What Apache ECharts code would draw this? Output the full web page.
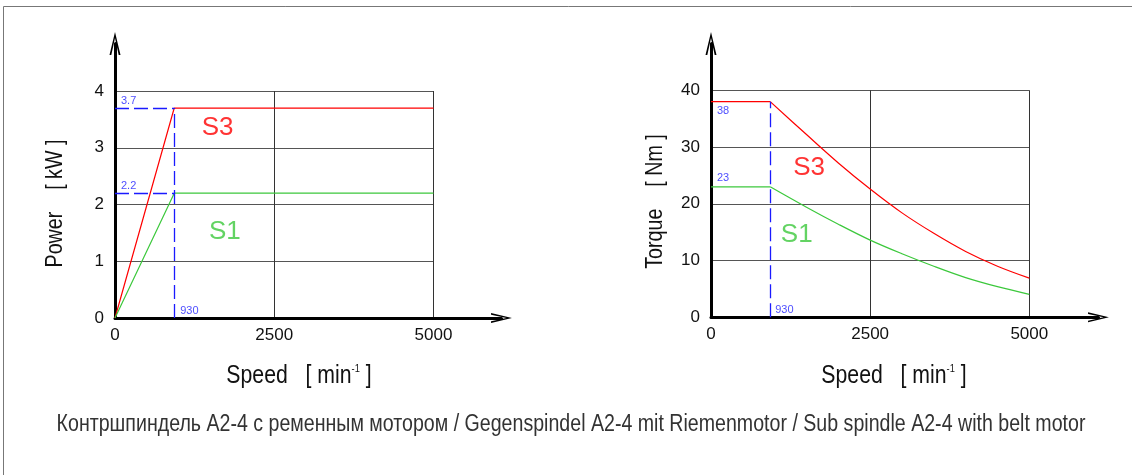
<!DOCTYPE html>
<html>
<head>
<meta charset="utf-8">
<script src="https://cdn.jsdelivr.net/npm/echarts@6/dist/echarts.min.js"></script>
<style>
  html, body { margin: 0; padding: 0; background: #fff; }
  #chart { width: 1132px; height: 475px; }
</style>
</head>
<body>
<div id="chart"></div>
<script>
  // power curve (left)
  var powerSpeed = [0, 930, 5000];
  var powerS3 = [0, 3.7, 3.7];
  var powerS1 = [0, 2.2, 2.2];
  // torque curve (right)
  var torqueSpeed = [0, 930, 1500, 2000, 2500, 3000, 3500, 4000, 4500, 5000];
  var torqueS3 = [38, 38, 32.2, 27.2, 22.6, 18.4, 14.8, 11.6, 9.0, 6.9];
  var torqueS1 = [23, 23, 19.4, 16.4, 13.6, 11.2, 9.0, 7.0, 5.4, 4.05];
  var speedTicks = [0, 2500, 5000];
  var powerTicks = [0, 1, 2, 3, 4];
  var torqueTicks = [0, 10, 20, 30, 40];
  var baseSpeed = 930;
  var caption = 'Контршпиндель A2-4 с ременным мотором / Gegenspindel A2-4 mit Riemenmotor / Sub spindle A2-4 with belt motor';

  var FONT = '"Liberation Sans", Arial, sans-serif';
  var RED = '#ff0000', GREEN = '#3cc83c', BLUE = '#1a1aff';
  var chevron = 'path://M0,23 L5.5,0 L11,23 L9.2,23 L5.5,6 L1.8,23 Z';

  function zip(xs, ys) {
    var out = [];
    for (var i = 0; i < xs.length; i++) out.push([xs[i], ys[i]]);
    return out;
  }

  function plotX(idx, ticks) {
    return {
      gridIndex: idx, type: 'value',
      min: ticks[0], max: ticks[ticks.length - 1], interval: ticks[1] - ticks[0],
      axisLine: { show: false }, axisTick: { show: false },
      axisLabel: { color: '#111', fontSize: 17, fontFamily: FONT, margin: 9,
        formatter: function (v) { return String(v); } },
      splitLine: { show: true, lineStyle: { color: '#333', width: 1 } }
    };
  }
  function plotY(idx, ticks) {
    return {
      gridIndex: idx, type: 'value',
      min: ticks[0], max: ticks[ticks.length - 1], interval: ticks[1] - ticks[0],
      axisLine: { show: false }, axisTick: { show: false },
      axisLabel: { color: '#111', fontSize: 17, fontFamily: FONT, margin: 11 },
      splitLine: { show: true, lineStyle: { color: '#555', width: 1.2 } }
    };
  }
  // the thick arrow axes
  function arrowAxis(idx, size) {
    return {
      gridIndex: idx, type: 'value', min: 0, max: 1,
      axisLine: { show: true, symbol: ['none', chevron], symbolSize: size,
        lineStyle: { color: '#000', width: 3 } },
      axisTick: { show: false }, axisLabel: { show: false }, splitLine: { show: false }
    };
  }

  function tag(x, y, text, pos, va) {
    return { value: [x, y], label: { formatter: text, position: pos, verticalAlign: va } };
  }
  function curveLabel(x, y, text, color) {
    return { value: [x, y], label: { formatter: text, color: color } };
  }
  function curve(name, xi, data, color, smooth) {
    return {
      name: name, type: 'line', xAxisIndex: xi, yAxisIndex: xi,
      data: data, showSymbol: false, smooth: smooth,
      lineStyle: { color: color, width: 1.2 }
    };
  }

  var dash = { color: BLUE, type: [14, 5], width: 1.3 };
  var torqueS3pts = zip(torqueSpeed, torqueS3);
  var torqueS1pts = zip(torqueSpeed, torqueS1);

  var s1Power = curve('S1', 0, zip(powerSpeed, powerS1), GREEN, false);
  s1Power.markLine = {
    silent: true, symbol: ['none', 'none'], label: { show: false }, lineStyle: dash,
    data: [
      [{ coord: [0, powerS3[1]] }, { coord: [baseSpeed, powerS3[1]] }],
      [{ coord: [0, powerS1[1]] }, { coord: [baseSpeed, powerS1[1]] }],
      [{ coord: [baseSpeed, 0] }, { coord: [baseSpeed, powerS3[1]] }]
    ]
  };
  var s1TorqueFlat = curve('S1', 2, torqueS1pts.slice(0, 2), GREEN, false);
  s1TorqueFlat.markLine = {
    silent: true, symbol: ['none', 'none'], label: { show: false }, lineStyle: dash,
    data: [[{ coord: [baseSpeed, 0] }, { coord: [baseSpeed, torqueS3[1]] }]]
  };

  var tagLabel = { show: true, color: BLUE, fontSize: 11, fontFamily: FONT, align: 'left' };
  var nameLabel = { show: true, position: [0, 0], align: 'center', verticalAlign: 'middle',
    fontSize: 26, fontFamily: FONT };
  var supRich = { sup: { fontSize: 11, fontFamily: FONT, verticalAlign: 'top', fill: '#111' } };

  var option = {
    animation: false,
    backgroundColor: '#fff',
    grid: [
      { left: 115, top: 91, width: 318.5, height: 227 },
      { left: 115, top: 43.5, width: 386.5, height: 274.5 },
      { left: 711, top: 90.3, width: 318.3, height: 227 },
      { left: 711, top: 43.5, width: 387.5, height: 273.8 }
    ],
    xAxis: [
      plotX(0, speedTicks), arrowAxis(1, [10, 23]),
      plotX(2, speedTicks), arrowAxis(3, [10, 23])
    ],
    yAxis: [
      plotY(0, powerTicks), arrowAxis(1, [11, 23]),
      plotY(2, torqueTicks), arrowAxis(3, [11, 23])
    ],
    series: [
      curve('S3', 0, zip(powerSpeed, powerS3), RED, false),
      s1Power,
      curve('S3', 2, torqueS3pts.slice(0, 2), RED, false),
      curve('S3', 2, torqueS3pts.slice(1), RED, 0.35),
      s1TorqueFlat,
      curve('S1', 2, torqueS1pts.slice(1), GREEN, 0.35),
      {
        // small blue value tags
        type: 'scatter', xAxisIndex: 0, yAxisIndex: 0, symbolSize: 0, silent: true,
        label: tagLabel,
        data: [
          tag(0, powerS3[1], String(powerS3[1]), [6, -2], 'bottom'),
          tag(0, powerS1[1], String(powerS1[1]), [6, -2], 'bottom'),
          tag(baseSpeed, 0, String(baseSpeed), [6, -2], 'bottom')
        ]
      },
      {
        type: 'scatter', xAxisIndex: 2, yAxisIndex: 2, symbolSize: 0, silent: true,
        label: tagLabel,
        data: [
          tag(0, torqueS3[1], String(torqueS3[1]), [6, 4], 'top'),
          tag(0, torqueS1[1], String(torqueS1[1]), [6, -3], 'bottom'),
          tag(baseSpeed, 0, String(baseSpeed), [5, -2], 'bottom')
        ]
      },
      {
        // S3 / S1 curve names
        type: 'scatter', xAxisIndex: 0, yAxisIndex: 0, symbolSize: 0, silent: true,
        label: nameLabel,
        data: [curveLabel(1610, 3.35, 'S3', RED), curveLabel(1724, 1.52, 'S1', GREEN)]
      },
      {
        type: 'scatter', xAxisIndex: 2, yAxisIndex: 2, symbolSize: 0, silent: true,
        label: nameLabel,
        data: [curveLabel(1540, 26.4, 'S3', RED), curveLabel(1346, 14.6, 'S1', GREEN)]
      }
    ],
    graphic: [
      // page frame
      { type: 'rect', shape: { x: 3.5, y: 6.5, width: 1200, height: 600 },
        style: { fill: 'none', stroke: '#777', lineWidth: 1 }, silent: true },
      { type: 'text', x: 55, y: 203.5, rotation: Math.PI / 2, scaleX: 0.82,
        style: { text: 'Power    [ kW ]', font: '24px ' + FONT, fill: '#111',
          align: 'center', verticalAlign: 'middle' } },
      { type: 'text', x: 655, y: 201.5, rotation: Math.PI / 2, scaleX: 0.82,
        style: { text: 'Torque    [ Nm ]', font: '24px ' + FONT, fill: '#111',
          align: 'center', verticalAlign: 'middle' } },
      { type: 'text', x: 299, y: 376, scaleX: 0.85,
        style: { text: 'Speed   [ min{sup|-1} ]', font: '25px ' + FONT, fill: '#111',
          align: 'center', verticalAlign: 'middle', rich: supRich } },
      { type: 'text', x: 894, y: 376, scaleX: 0.85,
        style: { text: 'Speed   [ min{sup|-1} ]', font: '25px ' + FONT, fill: '#111',
          align: 'center', verticalAlign: 'middle', rich: supRich } },
      { type: 'text', x: 571, y: 425, scaleX: 0.852,
        style: { text: caption, font: '23px ' + FONT, fill: '#333',
          align: 'center', verticalAlign: 'middle' } }
    ]
  };

  var myChart = echarts.init(document.getElementById('chart'));
  myChart.setOption(option);
</script>
</body>
</html>
